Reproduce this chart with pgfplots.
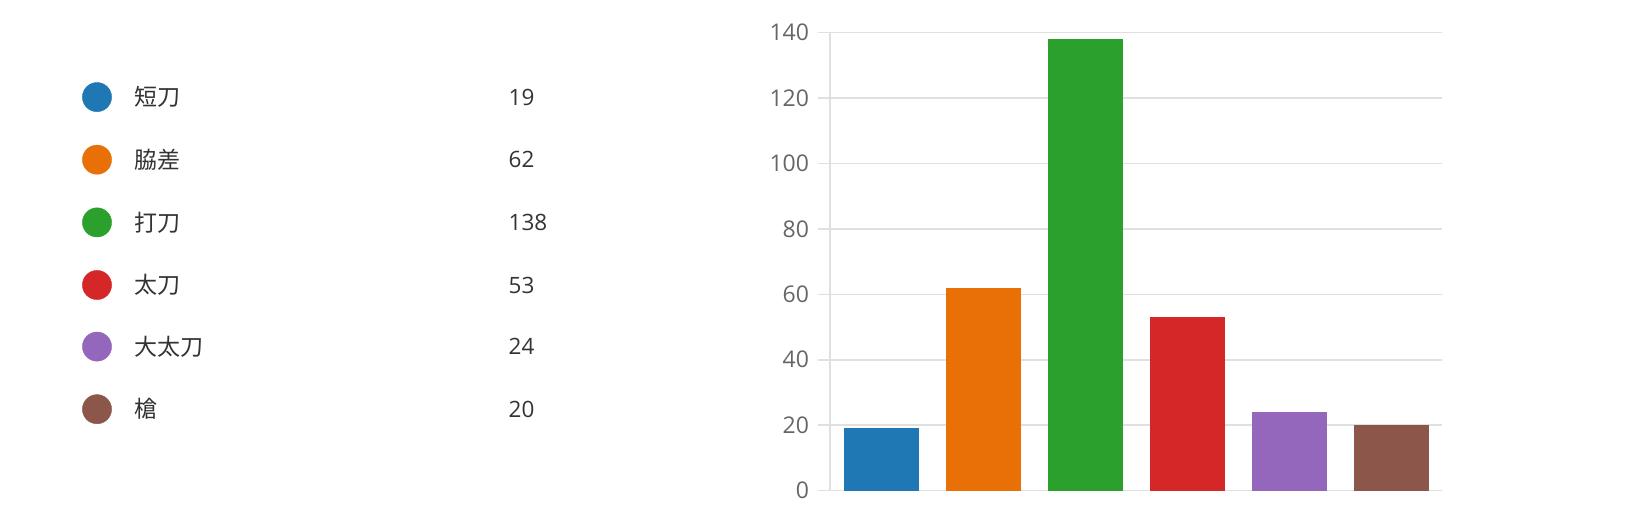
\documentclass[border=0pt]{standalone}
\usepackage{fontspec}
\setmainfont{Open Sans}
\newfontfamily\cjk{Noto Sans CJK JP}
\usepackage{pgfplots}
\pgfplotsset{compat=1.18}
\usepackage{pgfplotstable}

\definecolor{c1}{HTML}{1F77B4}
\definecolor{c2}{HTML}{E97007}
\definecolor{c3}{HTML}{2CA02C}
\definecolor{c4}{HTML}{D62728}
\definecolor{c5}{HTML}{9467BD}
\definecolor{c6}{HTML}{8C564B}
\definecolor{gridgray}{HTML}{E0E0E0}
\definecolor{tickgray}{HTML}{666666}
\definecolor{textdark}{HTML}{333333}

% legend rows: y position (pt from bottom), name, count, colour class
\pgfplotstableread{
ly    name   val cls
429.9 短刀   19  a
367.3 脇差   62  b
304.6 打刀   138 c
242.0 太刀   53  d
180.4 大太刀 24  e
117.8 槍     20  f
}\legtab

\begin{document}
\begin{tikzpicture}
\useasboundingbox (0,0) rectangle (1637pt,527pt);

% legend on a hidden full-canvas axis
\begin{axis}[
    at={(0pt,0pt)}, anchor=south west,
    scale only axis, width=1637pt, height=527pt,
    xmin=0, xmax=1637, ymin=0, ymax=527,
    hide axis, clip=false,
]
\addplot[scatter, only marks, scatter src=explicit symbolic,
    scatter/classes={
        a={mark=*, draw=c1, fill=c1, mark size=14.6pt},
        b={mark=*, draw=c2, fill=c2, mark size=14.6pt},
        c={mark=*, draw=c3, fill=c3, mark size=14.6pt},
        d={mark=*, draw=c4, fill=c4, mark size=14.6pt},
        e={mark=*, draw=c5, fill=c5, mark size=14.6pt},
        f={mark=*, draw=c6, fill=c6, mark size=14.6pt}}]
    table[x expr=97, y=ly, meta=cls] \legtab;
\addplot[only marks, mark=none, nodes near coords, point meta=explicit symbolic,
    nodes near coords style={anchor=west, inner sep=0pt, text=textdark,
        font=\cjk\fontsize{23}{27}\selectfont}]
    table[x expr=134.7, y=ly, meta=name] \legtab;
\addplot[only marks, mark=none, nodes near coords, point meta=explicit symbolic,
    nodes near coords style={anchor=west, inner sep=0pt, text=textdark,
        font=\fontsize{22.5}{27}\selectfont}]
    table[x expr=508.5, y=ly, meta=val] \legtab;
\end{axis}

% bar chart
\begin{axis}[
    at={(830pt,36.3pt)}, anchor=south west,
    scale only axis, width=612pt, height=458.3pt,
    xmin=-0.5, xmax=5.5, ymin=0, ymax=140,
    ytick={0,20,...,140}, xtick=\empty,
    axis lines*=left,
    axis line style={draw=gridgray, line width=1.5pt},
    ymajorgrids, grid style={draw=gridgray, line width=1.5pt},
    tick style={draw=gridgray, line width=1.5pt},
    major tick length=12.5pt, tick align=outside, ytick pos=left,
    yticklabel style={font=\fontsize{23}{27}\selectfont, text=tickgray, xshift=-5pt},
    /pgf/number format/assume math mode=true,
    ybar, bar width=74pt, clip=false,
]
\addplot[bar shift=0pt, fill=c1, draw=c1] coordinates {(0,19)};
\addplot[bar shift=0pt, fill=c2, draw=c2] coordinates {(1,62)};
\addplot[bar shift=0pt, fill=c3, draw=c3] coordinates {(2,138)};
\addplot[bar shift=0pt, fill=c4, draw=c4] coordinates {(3,53)};
\addplot[bar shift=0pt, fill=c5, draw=c5] coordinates {(4,24)};
\addplot[bar shift=0pt, fill=c6, draw=c6] coordinates {(5,20)};
\end{axis}
\end{tikzpicture}
\end{document}
